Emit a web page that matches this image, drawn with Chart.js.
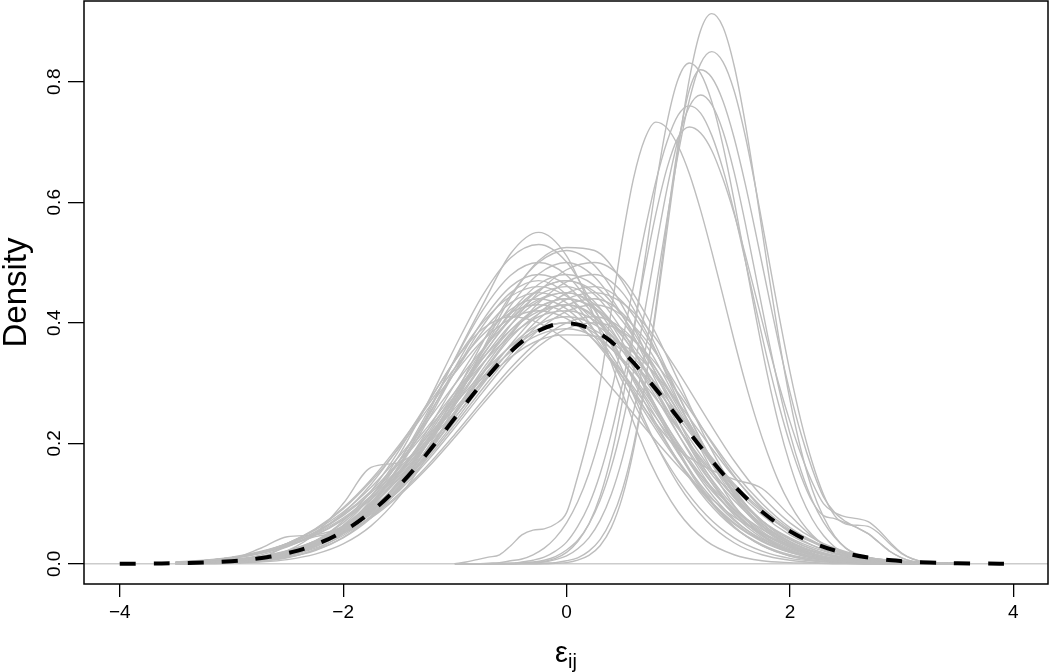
<!DOCTYPE html>
<html>
<head>
<meta charset="utf-8">
<title>Density of residuals</title>
<script src="https://cdn.jsdelivr.net/npm/chart.js@4.4.1/dist/chart.umd.min.js"></script>
<style>
  html, body { margin: 0; padding: 0; background: #ffffff; }
  #wrap { width: 1050px; height: 672px; }
</style>
</head>
<body>
<div id="wrap"><canvas id="densityChart" width="1050" height="672"></canvas></div>
<script>
// Axis ticks and titles
const xTicks = [-4, -2, 0, 2, 4];
const yTicks = [0, 0.2, 0.4, 0.6, 0.8];
const yTitle = 'Density';
const xTitle = 'ε';
const xTitleSub = 'ij';

// Grid of the wide curves centred near 0
const mainGrid = [-3.5, -3.25, -3, -2.75, -2.5, -2.25, -2, -1.75, -1.5, -1.25, -1, -0.75, -0.5, -0.25,
    0, 0.25, 0.5, 0.75, 1, 1.25, 1.5, 1.75, 2, 2.25, 2.5, 2.75, 3, 3.25, 3.5];

// Density estimates (one row per curve)
const mainCurves = [
    [0.001,0.002,0.005,0.010,0.020,0.036,0.061,0.097,0.146,0.206,0.273,0.340,0.397,0.436,0.450,0.431,0.379,0.305,0.225,0.153,0.095,0.054,0.028,0.014,0.006,0.003,0.001,0,0],
    [0,0.001,0.002,0.004,0.010,0.024,0.050,0.095,0.162,0.245,0.340,0.430,0.515,0.550,0.511,0.409,0.283,0.168,0.086,0.038,0.015,0.005,0.002,0.001,0,0,0,0,0],
    [0,0,0.001,0.003,0.007,0.016,0.033,0.063,0.111,0.178,0.263,0.356,0.442,0.503,0.525,0.520,0.468,0.381,0.281,0.189,0.115,0.063,0.032,0.014,0.006,0.002,0.001,0,0],
    [0,0.001,0.003,0.007,0.015,0.029,0.051,0.086,0.135,0.198,0.270,0.345,0.409,0.454,0.470,0.447,0.387,0.303,0.215,0.139,0.081,0.043,0.021,0.009,0.004,0.001,0,0,0],
    [0.001,0.003,0.006,0.011,0.019,0.033,0.055,0.084,0.124,0.174,0.231,0.291,0.348,0.397,0.429,0.440,0.416,0.352,0.267,0.181,0.110,0.059,0.029,0.013,0.005,0.002,0,0,0],
    [0,0.001,0.002,0.006,0.014,0.030,0.058,0.101,0.163,0.240,0.325,0.404,0.460,0.480,0.462,0.411,0.339,0.259,0.183,0.120,0.072,0.041,0.021,0.010,0.004,0.002,0.001,0,0],
    [0.003,0.005,0.010,0.018,0.032,0.052,0.080,0.118,0.166,0.221,0.278,0.333,0.379,0.410,0.420,0.404,0.360,0.297,0.226,0.160,0.105,0.063,0.036,0.018,0.009,0.004,0.002,0.001,0],
    [0.002,0.005,0.010,0.018,0.030,0.050,0.076,0.113,0.158,0.210,0.265,0.317,0.361,0.390,0.400,0.388,0.353,0.302,0.243,0.183,0.130,0.086,0.054,0.032,0.018,0.009,0.004,0.002,0.001],
    [0.001,0.002,0.005,0.010,0.018,0.031,0.051,0.078,0.116,0.162,0.215,0.271,0.325,0.370,0.400,0.410,0.390,0.337,0.264,0.188,0.121,0.071,0.037,0.018,0.008,0.003,0.001,0,0],
    [0.001,0.003,0.007,0.014,0.028,0.050,0.084,0.132,0.194,0.265,0.337,0.401,0.444,0.460,0.444,0.401,0.337,0.265,0.194,0.132,0.084,0.050,0.028,0.014,0.007,0.003,0.001,0,0],
    [0,0.001,0.002,0.005,0.011,0.022,0.043,0.076,0.125,0.191,0.270,0.354,0.429,0.481,0.500,0.476,0.412,0.322,0.229,0.148,0.086,0.046,0.022,0.010,0.004,0.002,0.001,0,0],
    [0.001,0.002,0.005,0.010,0.019,0.035,0.059,0.095,0.143,0.202,0.267,0.332,0.388,0.426,0.440,0.425,0.383,0.323,0.253,0.185,0.126,0.081,0.048,0.027,0.014,0.007,0.003,0.001,0],
    [0.001,0.003,0.006,0.011,0.020,0.035,0.057,0.088,0.130,0.182,0.242,0.305,0.364,0.415,0.449,0.460,0.435,0.368,0.279,0.189,0.115,0.062,0.030,0.013,0.005,0.002,0,0,0],
    [0,0.001,0.002,0.006,0.013,0.028,0.053,0.093,0.149,0.220,0.298,0.370,0.422,0.440,0.423,0.377,0.311,0.237,0.168,0.110,0.066,0.037,0.019,0.009,0.004,0.002,0.001,0,0],
    [0.002,0.005,0.009,0.017,0.029,0.047,0.073,0.107,0.150,0.200,0.252,0.301,0.343,0.371,0.380,0.378,0.364,0.324,0.267,0.204,0.144,0.094,0.057,0.032,0.017,0.008,0.004,0.001,0],
    [0,0.001,0.003,0.006,0.013,0.026,0.047,0.079,0.123,0.181,0.247,0.315,0.375,0.415,0.430,0.412,0.362,0.292,0.215,0.146,0.091,0.052,0.027,0.013,0.006,0.002,0.001,0,0],
    [0.001,0.003,0.006,0.012,0.021,0.036,0.060,0.092,0.135,0.190,0.252,0.318,0.380,0.433,0.468,0.480,0.450,0.372,0.270,0.173,0.097,0.048,0.021,0.008,0.003,0.001,0,0,0],
    [0.001,0.001,0.003,0.007,0.015,0.032,0.060,0.106,0.170,0.250,0.339,0.421,0.479,0.500,0.479,0.421,0.339,0.250,0.170,0.106,0.060,0.032,0.015,0.007,0.003,0.001,0.001,0,0],
    [0.001,0.002,0.005,0.011,0.020,0.037,0.062,0.099,0.150,0.211,0.279,0.347,0.406,0.446,0.460,0.435,0.368,0.279,0.189,0.115,0.062,0.030,0.013,0.005,0.002,0,0,0,0],
    [0.002,0.005,0.009,0.017,0.030,0.048,0.074,0.110,0.154,0.205,0.258,0.309,0.352,0.380,0.390,0.377,0.340,0.286,0.224,0.164,0.112,0.071,0.043,0.024,0.012,0.006,0.003,0.001,0],
    [0.001,0.003,0.005,0.010,0.019,0.033,0.053,0.082,0.121,0.170,0.226,0.285,0.341,0.388,0.419,0.430,0.412,0.362,0.292,0.215,0.146,0.091,0.052,0.027,0.013,0.006,0.002,0.001,0],
    [0.002,0.005,0.010,0.018,0.034,0.057,0.091,0.137,0.192,0.255,0.317,0.371,0.407,0.420,0.407,0.371,0.317,0.255,0.192,0.137,0.091,0.057,0.034,0.018,0.010,0.005,0.002,0.001,0],
    [0,0.001,0.003,0.007,0.015,0.029,0.052,0.088,0.138,0.202,0.276,0.352,0.418,0.464,0.480,0.462,0.411,0.339,0.259,0.183,0.120,0.072,0.041,0.021,0.010,0.004,0.002,0.001,0],
    [0,0.001,0.002,0.005,0.011,0.023,0.044,0.079,0.129,0.198,0.280,0.368,0.446,0.500,0.520,0.495,0.428,0.335,0.238,0.153,0.089,0.047,0.023,0.010,0.004,0.002,0.001,0,0],
    [0.001,0.002,0.005,0.010,0.018,0.030,0.050,0.076,0.113,0.158,0.210,0.265,0.317,0.361,0.390,0.400,0.385,0.343,0.283,0.216,0.152,0.100,0.060,0.034,0.018,0.008,0.004,0.002,0.001],
    [0,0.001,0.003,0.008,0.018,0.037,0.071,0.121,0.188,0.264,0.337,0.390,0.410,0.400,0.370,0.325,0.271,0.215,0.162,0.116,0.078,0.051,0.031,0.018,0.010,0.005,0.002,0.001,0],
    [0.003,0.006,0.011,0.020,0.034,0.056,0.086,0.127,0.178,0.236,0.298,0.356,0.406,0.439,0.450,0.426,0.360,0.273,0.185,0.112,0.061,0.030,0.013,0.005,0.002,0,0,0,0],
    [0,0.001,0.002,0.006,0.014,0.030,0.056,0.099,0.159,0.235,0.319,0.395,0.450,0.470,0.447,0.387,0.303,0.215,0.139,0.081,0.043,0.021,0.009,0.004,0.001,0,0,0,0],
    [0.001,0.002,0.004,0.010,0.022,0.050,0.100,0.160,0.168,0.200,0.243,0.302,0.353,0.388,0.400,0.383,0.336,0.271,0.200,0.136,0.084,0.048,0.025,0.012,0.005,0.002,0.001,0,0],
    [0.002,0.005,0.010,0.019,0.034,0.058,0.093,0.140,0.197,0.261,0.325,0.380,0.417,0.430,0.415,0.370,0.310,0.245,0.190,0.160,0.140,0.125,0.080,0.038,0.015,0.005,0.002,0,0],
    [0.001,0.003,0.008,0.025,0.045,0.048,0.062,0.090,0.126,0.185,0.253,0.323,0.383,0.425,0.440,0.423,0.377,0.311,0.237,0.168,0.110,0.066,0.037,0.019,0.009,0.004,0.002,0.001,0],
    [0.001,0.001,0.003,0.007,0.016,0.033,0.064,0.112,0.180,0.265,0.359,0.446,0.508,0.530,0.501,0.424,0.322,0.218,0.132,0.072,0.035,0.015,0.006,0.002,0.001,0,0,0,0],
    [0.001,0.002,0.005,0.011,0.021,0.038,0.063,0.102,0.153,0.215,0.285,0.355,0.415,0.455,0.470,0.452,0.403,0.332,0.253,0.179,0.117,0.071,0.040,0.021,0.010,0.004,0.002,0.001,0],
    [0.001,0.003,0.006,0.011,0.020,0.034,0.056,0.086,0.127,0.178,0.236,0.298,0.356,0.406,0.439,0.450,0.433,0.386,0.318,0.243,0.171,0.112,0.068,0.038,0.020,0.009,0.004,0.002,0.001],
    [0.001,0.002,0.005,0.009,0.030,0.045,0.055,0.089,0.133,0.188,0.249,0.310,0.362,0.397,0.410,0.397,0.362,0.310,0.249,0.188,0.133,0.089,0.055,0.033,0.018,0.009,0.005,0.002,0.001],
    [0.001,0.002,0.004,0.009,0.020,0.038,0.068,0.112,0.171,0.243,0.318,0.386,0.433,0.450,0.433,0.386,0.318,0.243,0.171,0.112,0.068,0.038,0.020,0.009,0.004,0.002,0.001,0,0],
    [0.003,0.005,0.010,0.019,0.033,0.053,0.082,0.121,0.170,0.226,0.285,0.341,0.388,0.419,0.430,0.409,0.354,0.277,0.197,0.127,0.074,0.039,0.019,0.008,0.003,0.001,0,0,0],
    [0.002,0.003,0.007,0.012,0.022,0.038,0.062,0.096,0.141,0.198,0.263,0.331,0.396,0.451,0.488,0.500,0.473,0.400,0.304,0.206,0.125,0.068,0.033,0.015,0.006,0.002,0.001,0,0]
];

// Grid of the narrow curves shifted to the right
const shiftGrid = [-1, -0.9, -0.8, -0.7, -0.6, -0.5, -0.4, -0.3, -0.2, -0.1, 0, 0.1, 0.2, 0.3, 0.4, 0.5, 0.6, 0.7, 0.8, 0.9,
    1, 1.1, 1.2, 1.3, 1.4, 1.5, 1.6, 1.7, 1.8, 1.9, 2, 2.1, 2.2, 2.3, 2.4, 2.5, 2.6, 2.7, 2.8, 2.9,
    3, 3.1, 3.2, 3.3, 3.4];

const shiftCurves = [
    [0,0,0,0,0,0,0,0,0.001,0.002,0.005,0.010,0.021,0.040,0.073,0.123,0.197,0.297,0.418,0.554,0.689,0.805,0.885,0.913,0.891,0.827,0.731,0.615,0.492,0.375,0.272,0.188,0.123,0.078,0.046,0.026,0.014,0.007,0.004,0.002,0.001,0,0,0,0],
    [0,0,0,0,0,0,0.001,0.002,0.003,0.007,0.013,0.025,0.043,0.072,0.115,0.175,0.253,0.349,0.458,0.573,0.681,0.770,0.830,0.850,0.833,0.785,0.710,0.617,0.516,0.414,0.319,0.236,0.168,0.115,0.080,0.066,0.064,0.062,0.050,0.032,0.017,0.008,0.003,0.001,0],
    [0,0,0,0,0,0,0.001,0.002,0.004,0.009,0.019,0.037,0.066,0.112,0.179,0.270,0.381,0.504,0.627,0.733,0.805,0.831,0.814,0.767,0.694,0.603,0.504,0.405,0.312,0.231,0.165,0.112,0.074,0.047,0.028,0.017,0.009,0.005,0.002,0.002,0.001,0,0,0,0],
    [0,0,0,0,0,0,0,0,0,0.001,0.002,0.006,0.014,0.030,0.060,0.111,0.189,0.295,0.426,0.568,0.696,0.787,0.820,0.807,0.768,0.707,0.630,0.543,0.453,0.365,0.285,0.215,0.157,0.111,0.085,0.070,0.060,0.050,0.035,0.020,0.010,0.004,0.001,0,0],
    [0,0,0,0,0,0.001,0.002,0.003,0.006,0.012,0.023,0.039,0.066,0.105,0.160,0.232,0.320,0.419,0.524,0.623,0.705,0.759,0.778,0.762,0.718,0.650,0.565,0.472,0.379,0.292,0.216,0.154,0.105,0.069,0.044,0.026,0.016,0.009,0.005,0.002,0.002,0.001,0,0,0],
    [0,0,0,0.001,0.002,0.005,0.008,0.015,0.026,0.043,0.068,0.103,0.150,0.211,0.285,0.370,0.461,0.552,0.635,0.701,0.745,0.760,0.748,0.711,0.655,0.584,0.503,0.420,0.338,0.264,0.199,0.145,0.103,0.080,0.075,0.068,0.060,0.050,0.035,0.020,0.010,0.004,0.001,0,0],
    [0,0.003,0.007,0.011,0.015,0.030,0.048,0.056,0.058,0.066,0.085,0.145,0.215,0.300,0.420,0.540,0.640,0.705,0.733,0.723,0.693,0.647,0.587,0.518,0.445,0.371,0.301,0.238,0.183,0.136,0.099,0.070,0.048,0.032,0.021,0.013,0.008,0.005,0.003,0.001,0.001,0,0,0,0],
    [0,0,0,0,0.001,0.001,0.003,0.006,0.011,0.021,0.036,0.062,0.098,0.149,0.216,0.298,0.391,0.489,0.581,0.657,0.708,0.725,0.715,0.686,0.639,0.581,0.513,0.440,0.367,0.298,0.236,0.181,0.135,0.100,0.085,0.078,0.075,0.070,0.055,0.035,0.018,0.008,0.003,0.001,0]
];

// Standard normal reference density (dashed)
const normalGrid = [-4, -3.75, -3.5, -3.25, -3, -2.75, -2.5, -2.25, -2, -1.75, -1.5, -1.25, -1, -0.75, -0.5, -0.25,
    0, 0.25, 0.5, 0.75, 1, 1.25, 1.5, 1.75, 2, 2.25, 2.5, 2.75, 3, 3.25, 3.5, 3.75, 4];
const normalDensity = [0.0001, 0.0004, 0.0009, 0.0020, 0.0044, 0.0091, 0.0175, 0.0317, 0.0540, 0.0863, 0.1295, 0.1826, 0.2420, 0.3011, 0.3521, 0.3867,
    0.3989, 0.3867, 0.3521, 0.3011, 0.2420, 0.1826, 0.1295, 0.0863, 0.0540, 0.0317, 0.0175, 0.0091, 0.0044, 0.0020, 0.0009, 0.0004, 0.0001];

const FONT = '"Liberation Sans", Arial, Helvetica, sans-serif';
const GREY = '#bdbdbd';

function toPoints(grid, values) {
    return values.map((v, i) => ({ x: grid[i], y: v }));
}

function greyLine(grid, values) {
    return {
        data: toPoints(grid, values),
        borderColor: GREY,
        borderWidth: 1.4,
        pointRadius: 0,
        cubicInterpolationMode: 'monotone',
        fill: false,
        order: 1
    };
}

// zero line, frame and the subscripted x title
const framePlugin = {
    id: 'framePlugin',
    beforeDatasetsDraw(chart) {
        const { ctx, chartArea, scales } = chart;
        const y0 = scales.y.getPixelForValue(0);
        ctx.save();
        ctx.strokeStyle = '#cccccc';
        ctx.lineWidth = 1.5;
        ctx.beginPath();
        ctx.moveTo(chartArea.left, y0);
        ctx.lineTo(chartArea.right, y0);
        ctx.stroke();
        ctx.restore();
    },
    afterDraw(chart) {
        const { ctx, chartArea } = chart;
        ctx.save();
        ctx.strokeStyle = '#000000';
        ctx.lineWidth = 1.5;
        ctx.strokeRect(chartArea.left, chartArea.top, chartArea.right - chartArea.left, chartArea.bottom - chartArea.top);

        ctx.fillStyle = '#000000';
        ctx.textBaseline = 'alphabetic';
        ctx.textAlign = 'left';
        ctx.font = '29px ' + FONT;
        const wMain = ctx.measureText(xTitle).width;
        ctx.font = '20px ' + FONT;
        const wSub = ctx.measureText(xTitleSub).width;
        const x0 = (chartArea.left + chartArea.right) / 2 - (wMain + wSub) / 2;
        ctx.font = '29px ' + FONT;
        ctx.fillText(xTitle, x0, 662);
        ctx.font = '20px ' + FONT;
        ctx.fillText(xTitleSub, x0 + wMain, 668);
        ctx.restore();
    }
};

const datasets = [{
    data: toPoints(normalGrid, normalDensity),
    borderColor: '#000000',
    borderWidth: 4,
    borderDash: [16, 18],
    borderCapStyle: 'butt',
    pointRadius: 0,
    tension: 0.4,
    fill: false,
    order: 0
}];
mainCurves.forEach(v => datasets.push(greyLine(mainGrid, v)));
shiftCurves.forEach(v => datasets.push(greyLine(shiftGrid, v)));

new Chart(document.getElementById('densityChart'), {
    type: 'line',
    data: { datasets: datasets },
    options: {
        responsive: false,
        animation: false,
        devicePixelRatio: 1,
        layout: { padding: { top: 1, right: 2, left: 0, bottom: 0 } },
        plugins: {
            legend: { display: false },
            tooltip: { enabled: false }
        },
        scales: {
            x: {
                type: 'linear',
                min: -4.32,
                max: 4.31,
                afterBuildTicks: (scale) => { scale.ticks = xTicks.map(v => ({ value: v })); },
                afterFit: (scale) => {
                    scale.height = 88;
                    scale.paddingLeft = 0;
                    scale.paddingRight = 0;
                },
                border: { display: false },
                grid: {
                    drawOnChartArea: false,
                    drawTicks: true,
                    tickLength: 13,
                    color: '#000000',
                    lineWidth: 1.3
                },
                ticks: {
                    color: '#000000',
                    padding: 4,
                    maxRotation: 0,
                    font: { family: FONT, size: 19 },
                    callback: (v) => String(v).replace('-', '\u2212')
                }
            },
            y: {
                type: 'linear',
                min: -0.0335,
                max: 0.934,
                afterBuildTicks: (scale) => { scale.ticks = yTicks.map(v => ({ value: v })); },
                afterFit: (scale) => {
                    scale.width = 84;
                    scale.paddingTop = 0;
                    scale.paddingBottom = 0;
                },
                border: { display: false },
                grid: {
                    drawOnChartArea: false,
                    drawTicks: true,
                    tickLength: 16,
                    color: '#000000',
                    lineWidth: 1.3
                },
                title: {
                    display: true,
                    text: yTitle,
                    color: '#000000',
                    font: { family: FONT, size: 33, lineHeight: 1.0 },
                    padding: 0
                },
                ticks: {
                    color: '#000000',
                    padding: 0,
                    minRotation: 90,
                    maxRotation: 90,
                    crossAlign: 'center',
                    font: { family: FONT, size: 19 },
                    callback: (v) => v.toFixed(1)
                }
            }
        }
    },
    plugins: [framePlugin]
});
</script>
</body>
</html>
